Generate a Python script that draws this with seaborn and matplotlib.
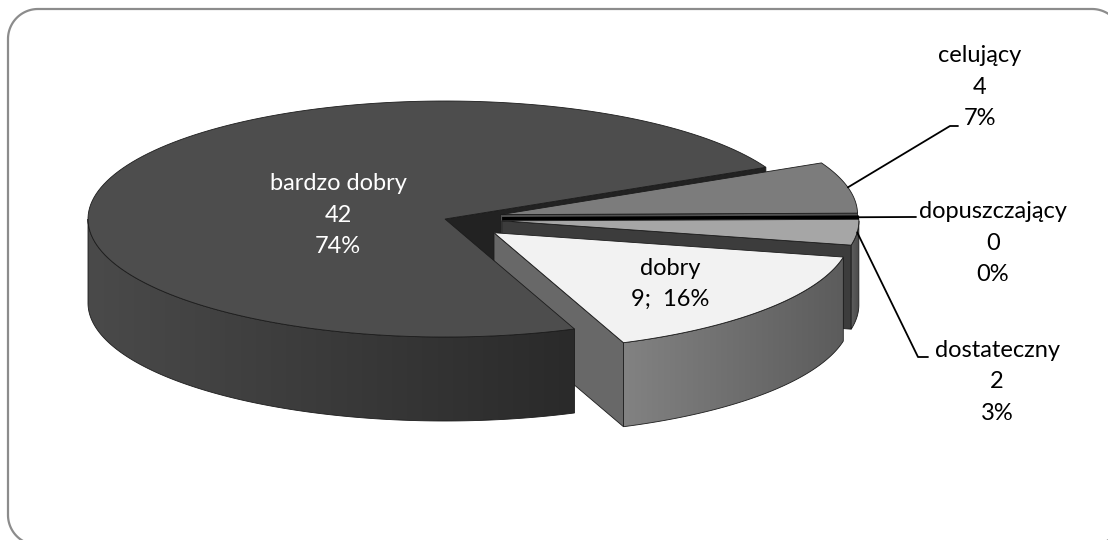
import numpy as np
import matplotlib
matplotlib.use("Agg")
import matplotlib.pyplot as plt
import seaborn as sns
from matplotlib.patches import Polygon

# Grades and how many students received each one (clockwise from the top slice)
categories = ["celujący", "dopuszczający", "dostateczny", "dobry", "bardzo dobry"]
counts = [4, 0, 2, 9, 42]
pct_labels = ["7%", "0%", "3%", "16%", "74%"]
label_sep = ["\n", "\n", "\n", ";  ", "\n"]
explode = [0.16, 0.16, 0.16, 0.18, 0.0]

top_colors = ["#7c7c7c", "#000000", "#a6a6a6", "#f2f2f2", "#4d4d4d"]
side_colors = ["#525252", "#000000", "#3c3c3c", "#686868", "#222222"]
wall_colors = [("#5a5a5a", "#4a4a4a"), ("#000000", "#000000"),
               ("#5e5e5e", "#4b4b4b"), ("#828282", "#5c5c5c"),
               ("#4a4a4a", "#2a2a2a")]
text_colors = ["black", "black", "black", "black", "white"]

sns.set_theme(style="white")
plt.rcParams["font.family"] = ["Lato", "DejaVu Sans"]

W, H_PX = 1108, 540
fig = plt.figure(figsize=(W / 100, H_PX / 100), dpi=100)

# chart axes in pixel coordinates (y down)
ax = fig.add_axes([0, 0, 1, 1])
ax.set_xlim(0, W)
ax.set_ylim(H_PX, 0)
ax.axis("off")

# Perspective of the flattened 3D pie (pixel units)
CX, CY, RA, RB, DEPTH = 445.0, 219.0, 357.0, 118.0, 84.0
START = 26.0
EDGE = "#1c1c1c"

_z = [10]


def nz():
    _z[0] += 1
    return _z[0]


def proj(X, Y, dz=0.0):
    return CX + RA * X, CY - RB * Y + dz


total = float(sum(counts))
spans = [360.0 * c / total for c in counts]
slices = []
hi = START
for i, sp in enumerate(spans):
    lo = hi - sp
    tm = np.radians((lo + hi) / 2)
    ox, oy = explode[i] * np.cos(tm), explode[i] * np.sin(tm)
    slices.append(dict(lo=lo, hi=hi, ox=ox, oy=oy))
    hi = lo


def arc(s, t_from, t_to, dz=0.0, n=160):
    ts = np.radians(np.linspace(t_from, t_to, n))
    return [proj(s["ox"] + np.cos(t), s["oy"] + np.sin(t), dz) for t in ts]


def radial_faces(i):
    s = slices[i]
    apex_t = proj(s["ox"], s["oy"])
    apex_b = proj(s["ox"], s["oy"], DEPTH)
    for ang, visible in ((s["lo"], np.cos(np.radians(s["lo"])) > 0),
                         (s["hi"], np.cos(np.radians(s["hi"])) < 0)):
        if not visible or s["lo"] == s["hi"]:
            continue
        t = np.radians(ang)
        e_t = proj(s["ox"] + np.cos(t), s["oy"] + np.sin(t))
        e_b = proj(s["ox"] + np.cos(t), s["oy"] + np.sin(t), DEPTH)
        ax.add_patch(Polygon([apex_t, e_t, e_b, apex_b], closed=True,
                             fc=side_colors[i], ec=EDGE, lw=0.6, zorder=nz()))


def outer_wall(i):
    s = slices[i]
    if s["lo"] == s["hi"]:
        return
    ts = np.linspace(s["lo"], s["hi"], 721)
    vis = np.sin(np.radians(ts)) <= 0
    if not vis.any():
        return
    tv = ts[vis]
    w0, w1 = tv.min(), tv.max()
    outline = arc(s, w0, w1, 0.0) + arc(s, w1, w0, DEPTH)
    xs = [p[0] for p in outline]
    ys = [p[1] for p in outline]
    pal = np.array(sns.blend_palette(list(wall_colors[i]), n_colors=256))
    grad = pal[np.newaxis, :, :3]
    clip = Polygon(outline, closed=True, fc="none", ec="none",
                   transform=ax.transData)
    im = ax.imshow(grad, extent=(min(xs), max(xs), max(ys), min(ys)),
                   aspect="auto", interpolation="bilinear", zorder=nz())
    im.set_clip_path(clip)
    ax.add_patch(Polygon(outline, closed=True, fc="none", ec=EDGE, lw=0.6,
                         zorder=nz()))


def top_face(i):
    s = slices[i]
    apex = proj(s["ox"], s["oy"])
    if s["lo"] == s["hi"]:
        t = np.radians(s["lo"])
        end = proj(s["ox"] + np.cos(t), s["oy"] + np.sin(t))
        ax.plot([apex[0], end[0]], [apex[1], end[1]], color="black", lw=2.6,
                solid_capstyle="butt", zorder=nz())
        return
    pts = [apex] + arc(s, s["hi"], s["lo"])
    ax.add_patch(Polygon(pts, closed=True, fc=top_colors[i], ec=EDGE, lw=0.6,
                         zorder=nz()))


big = len(categories) - 1
# back face of the large slice first, then exploded slices, then the large slice
radial_faces(big)
for i in range(big):
    radial_faces(i)
    outer_wall(i)
    top_face(i)
outer_wall(big)
top_face(big)

FS = 17
LS = 1.62


def label_text(i):
    return f"{categories[i]}\n{counts[i]}{label_sep[i]}{pct_labels[i]}"


# labels placed on the slices
ax.text(338, 215, label_text(4), ha="center", va="center", fontsize=FS,
        color=text_colors[4], linespacing=LS, zorder=200)
ax.text(670, 284, label_text(3), ha="center", va="center", fontsize=FS,
        color=text_colors[3], linespacing=LS, zorder=200)

# labels outside with leader lines
outside = {0: ((980, 87), (950, 126), (958, 126)),
           1: ((993, 243), (910, 217), (916, 217)),
           2: ((997, 382), (918, 357), (928, 357))}
for i, (txt_xy, elbow, end) in outside.items():
    s = slices[i]
    tm = np.radians((s["lo"] + s["hi"]) / 2)
    anchor = proj(s["ox"] + np.cos(tm), s["oy"] + np.sin(tm))
    ax.plot([anchor[0], elbow[0], end[0]], [anchor[1], elbow[1], end[1]],
            color="black", lw=1.3, zorder=190)
    ax.text(txt_xy[0], txt_xy[1], label_text(i), ha="center", va="center",
            fontsize=FS, color=text_colors[i], linespacing=LS, zorder=200)

# rounded chart frame
FL, FT, FR, FB, FRAD = 8.0, 9.0, 1122.0, 545.0, 30.0


def corner(cx, cy, a0, a1):
    t = np.radians(np.linspace(a0, a1, 30))
    return list(zip(cx + FRAD * np.cos(t), cy - FRAD * np.sin(t)))


frame = (corner(FL + FRAD, FT + FRAD, 180, 90) +
         corner(FR - FRAD, FT + FRAD, 90, 0) +
         corner(FR - FRAD, FB - FRAD, 0, -90) +
         corner(FL + FRAD, FB - FRAD, -90, -180))
ax.add_patch(Polygon(frame, closed=True, fc="none", ec="#8c8c8c", lw=1.6,
                     zorder=5, clip_on=True))

ax.set_xlim(0, W)
ax.set_ylim(H_PX, 0)

fig.savefig("out.png", dpi=100, facecolor="white")
